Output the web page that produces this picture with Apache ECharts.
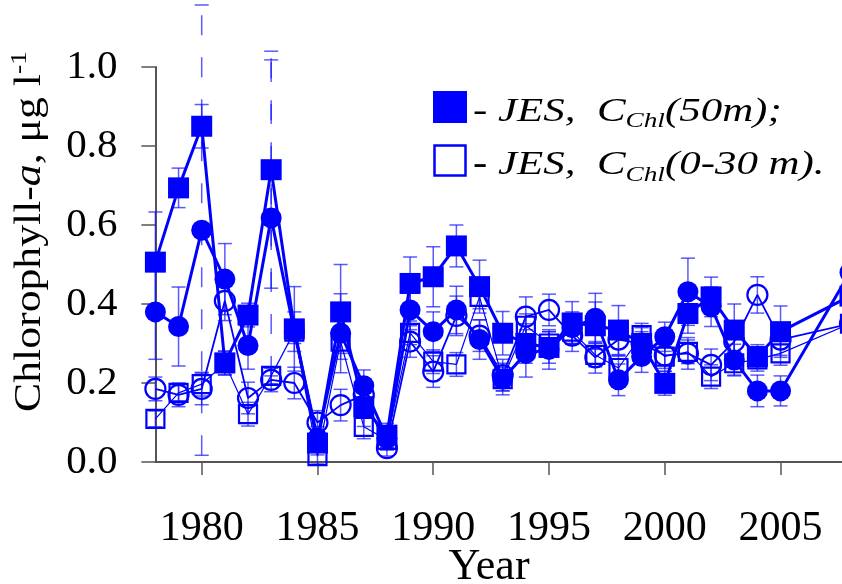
<!DOCTYPE html>
<html><head><meta charset="utf-8">
<script src="https://cdn.jsdelivr.net/npm/echarts@6/dist/echarts.min.js"></script>
<style>html,body{margin:0;padding:0;background:#fff}#c{width:842px;height:584px}</style>
</head><body><div id="c"></div>
<script>
// ---- data ----
const years = [1978,1979,1980,1981,1982,1983,1984,1985,1986,1987,1988,1989,1990,1991,1992,1993,1994,1995,1996,1997,1998,1999,2000,2001,2002,2003,2004,2005,2008];
// filled squares: JES, C_Chl(50m)
const fsVals = [0.506,0.694,0.85,0.251,0.372,0.74,0.337,0.048,0.38,0.14,0.068,0.452,0.469,0.547,0.444,0.326,0.30,0.29,0.352,0.345,0.334,0.30,0.199,0.376,0.418,0.334,0.267,0.33,0.42];
const fsErr  = [0.127,0.05,0.055,0.03,0.03,0.30,0.107,0.03,0.12,0.05,0.03,0.067,0.076,0.053,0.067,0.055,0.05,0.04,0.054,0.06,0.062,0.03,0.03,0.05,0.05,0.066,0.03,0.065,0.03];
// filled circles
const fcVals = [0.38,0.343,0.587,0.463,0.295,0.618,0.33,0.06,0.326,0.193,0.06,0.385,0.33,0.385,0.31,0.21,0.275,0.285,0.34,0.364,0.208,0.267,0.317,0.431,0.393,0.258,0.18,0.18,0.48];
const fcErr  = [0.12,0.1,0.57,0.09,0.06,0.40,0.05,0.03,0.1,0.04,0.03,0.05,0.05,0.06,0.05,0.04,0.06,0.05,0.04,0.063,0.04,0.04,0.037,0.085,0.05,0.04,0.04,0.038,0.03];
// open squares: JES, C_Chl(0-30 m)
const osVals = [0.109,0.175,0.197,0.25,0.121,0.218,0.33,0.015,0.305,0.089,0.056,0.327,0.254,0.247,0.418,0.21,0.345,0.30,0.33,0.271,0.238,0.321,0.267,0.279,0.216,0.25,0.26,0.275,0.35];
const osErr  = [0.02,0.02,0.03,0.03,0.03,0.02,0.03,0.02,0.03,0.03,0.02,0.03,0.03,0.03,0.03,0.03,0.03,0.03,0.03,0.03,0.03,0.03,0.03,0.03,0.03,0.03,0.03,0.03,0.03];
// open circles
const ocVals = [0.185,0.17,0.185,0.408,0.162,0.208,0.20,0.10,0.144,0.17,0.035,0.305,0.229,0.37,0.32,0.22,0.368,0.385,0.32,0.265,0.31,0.30,0.27,0.275,0.246,0.305,0.423,0.31,0.35];
const ocErr  = [0.03,0.03,0.04,0.05,0.04,0.03,0.04,0.03,0.04,0.03,0.02,0.04,0.04,0.05,0.04,0.04,0.05,0.04,0.04,0.04,0.04,0.04,0.04,0.04,0.04,0.04,0.046,0.04,0.03];
// error bars drawn dashed
const fsDashed = [1983];
const fcDashed = [1980, 1983];
const xTicks = [1980,1985,1990,1995,2000,2005];
const yTicks = [0,0.2,0.4,0.6,0.8,1.0];

// ---- chart ----
const BLUE = '#0000ff';
const FONT = '"Liberation Serif","Times New Roman",serif';
const chart = echarts.init(document.getElementById('c'), null, {renderer:'canvas'});
const pairs = v => years.map((y,i)=>[y, v[i]]);
const errData = (v,e,d) => years.map((y,i)=>[y, v[i]-e[i], v[i]+e[i], d.includes(y)?1:0]);

function errSeries(v,e,d){
  return {
    type:'custom', z:1, silent:true, clip:false, animation:false,
    data: errData(v,e,d),
    encode:{x:0, y:[1,2]},
    renderItem(params, api){
      const x = api.value(0), lo = api.value(1), hi = api.value(2), dash = api.value(3);
      const p1 = api.coord([x, lo]), p2 = api.coord([x, hi]);
      const cw = 7;
      const st = {stroke:'rgba(20,20,255,0.7)', lineWidth:1.5, fill:null};
      return {type:'group', children:[
        {type:'line', shape:{x1:p1[0],y1:p1[1],x2:p2[0],y2:p2[1]}, style:Object.assign({}, st, {lineDash: dash ? [20,22] : 'solid'})},
        {type:'line', shape:{x1:p1[0]-cw,y1:p1[1],x2:p1[0]+cw,y2:p1[1]}, style:st},
        {type:'line', shape:{x1:p2[0]-cw,y1:p2[1],x2:p2[0]+cw,y2:p2[1]}, style:st}
      ]};
    }
  };
}

const axisCol = '#555';
const option = {
  animation:false,
  backgroundColor:'#fff',
  grid:{left:155.4, right:-8, top:67, bottom:122, containLabel:false, outerBoundsMode:'none'},
  xAxis:{
    type:'value', min:1978, max:2008,
    axisLine:{show:true, lineStyle:{color:axisCol, width:2}},
    axisTick:{show:true, customValues:xTicks, length:13, lineStyle:{color:axisCol, width:1.5}},
    axisLabel:{customValues:xTicks, margin:46, fontSize:42, fontFamily:FONT, color:'#000', formatter:v=>String(v)},
    splitLine:{show:false}
  },
  yAxis:{
    type:'value', min:0, max:1, interval:0.2,
    axisLine:{show:true, lineStyle:{color:axisCol, width:2}},
    axisTick:{show:true, length:14, lineStyle:{color:axisCol, width:1.5}},
    axisLabel:{margin:38, fontSize:41, fontFamily:FONT, color:'#000', formatter:v=>v.toFixed(1)},
    splitLine:{show:false}
  },
  series:[
    errSeries(osVals, osErr, []),
    errSeries(ocVals, ocErr, []),
    errSeries(fcVals, fcErr, fcDashed),
    errSeries(fsVals, fsErr, fsDashed),
    {type:'line', z:2, data:pairs(osVals), symbol:'rect', symbolSize:18,
     itemStyle:{color:'rgba(0,0,0,0)', borderColor:BLUE, borderWidth:2.2}, lineStyle:{color:BLUE, width:1.2}},
    {type:'line', z:2, data:pairs(ocVals), symbol:'circle', symbolSize:20,
     itemStyle:{color:'rgba(0,0,0,0)', borderColor:BLUE, borderWidth:2.2}, lineStyle:{color:BLUE, width:1.8}},
    {type:'line', z:3, data:pairs(fcVals), symbol:'circle', symbolSize:21,
     itemStyle:{color:BLUE}, lineStyle:{color:BLUE, width:3}},
    {type:'line', z:4, data:pairs(fsVals), symbol:'rect', symbolSize:21,
     itemStyle:{color:BLUE}, lineStyle:{color:BLUE, width:3}}
  ],
  graphic:[
    {type:'text', x:30, y:231.5, rotation:Math.PI/2, scaleX:1.15,
     style:{text:'{n|Chlorophyll-}{i|a}{n|, μg l}{s|-1}', align:'center', verticalAlign:'middle',
       rich:{
         n:{fontSize:38, fontFamily:FONT, fill:'#000', lineHeight:44},
         i:{fontSize:38, fontFamily:FONT, fontStyle:'italic', fill:'#000', lineHeight:44},
         s:{fontSize:24, fontFamily:FONT, fill:'#000', lineHeight:34, verticalAlign:'top'}
       }}},
    {type:'text', x:489, y:567, style:{text:'Year', font:'44px '+FONT, fill:'#000', align:'center', verticalAlign:'middle'}},
    {type:'rect', shape:{x:433, y:91, width:34, height:32}, style:{fill:BLUE}},
    {type:'rect', shape:{x:434.5, y:145.5, width:31, height:30}, style:{fill:'#fff', stroke:BLUE, lineWidth:2.5}},
    {type:'text', x:473, y:112, scaleX:1.3,
     style:{text:'{m|- JES,  C}{b|Chl}{m|(50m);}', align:'left', verticalAlign:'middle',
       rich:{
         m:{fontSize:33, fontFamily:FONT, fontStyle:'italic', fill:'#000', lineHeight:40},
         b:{fontSize:21, fontFamily:FONT, fontStyle:'italic', fill:'#000', lineHeight:15, verticalAlign:'bottom'}
       }}},
    {type:'text', x:473, y:165.5, scaleX:1.3,
     style:{text:'{d|-}{m| JES,  C}{b|Chl}{m|(0-30 m).}', align:'left', verticalAlign:'middle',
       rich:{
         d:{fontSize:33, fontFamily:FONT, fontWeight:'bold', fill:'#000', lineHeight:40},
         m:{fontSize:33, fontFamily:FONT, fontStyle:'italic', fill:'#000', lineHeight:40},
         b:{fontSize:21, fontFamily:FONT, fontStyle:'italic', fill:'#000', lineHeight:15, verticalAlign:'bottom'}
       }}}
  ]
};
chart.setOption(option);
</script>
</body></html>
